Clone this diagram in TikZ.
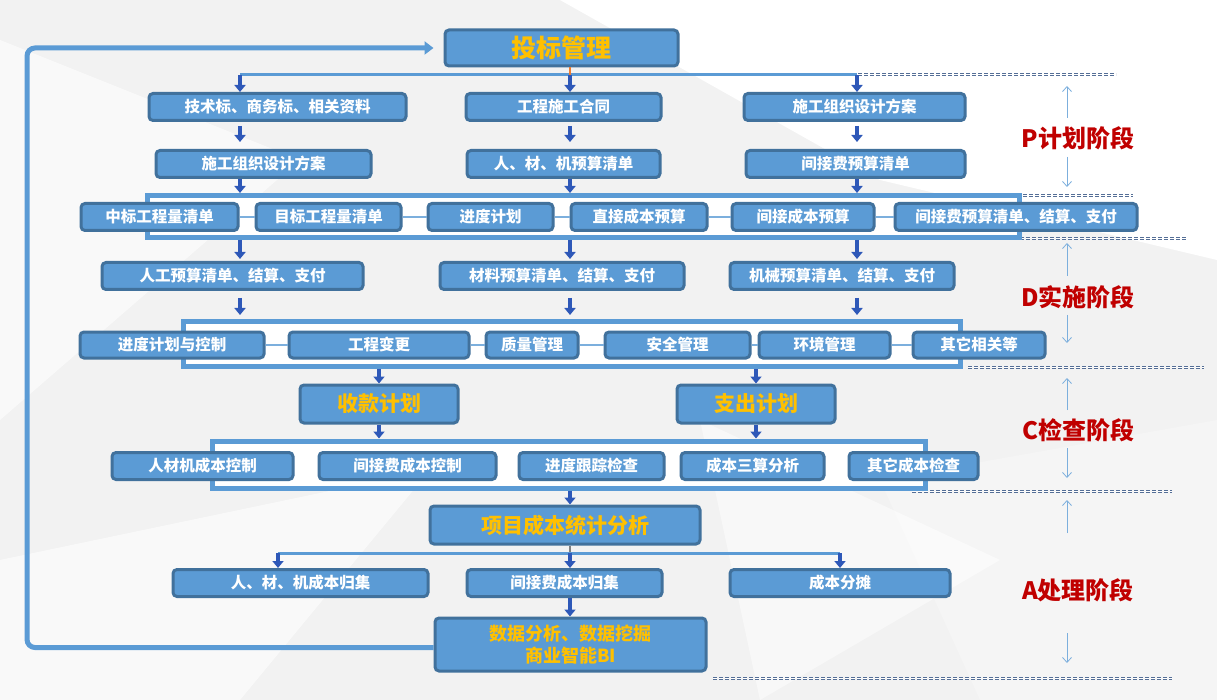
\documentclass[tikz,border=0pt]{standalone}
\usepackage{fontspec}
\setmainfont{Noto Sans CJK SC}
\usetikzlibrary{arrows.meta,positioning}

\definecolor{boxfill}{RGB}{91,155,213}
\definecolor{boxline}{RGB}{65,113,156}
\definecolor{gold}{RGB}{255,192,0}
\definecolor{phasered}{RGB}{192,0,0}
\definecolor{arrblue}{RGB}{46,88,184}
\definecolor{sepblue}{RGB}{84,110,150}
\definecolor{stuborange}{RGB}{237,125,49}
\definecolor{bg}{RGB}{242,242,242}

\tikzset{
  box/.style={draw=boxline,fill=boxfill,line width=3pt,rounded corners=4pt,minimum height=27pt,inner sep=0pt,text=white,font=\bfseries\fontsize{15.5}{18}\selectfont},
  bigbox/.style={box,minimum height=38pt,text=gold,font=\bfseries\fontsize{21}{24}\selectfont},
  frame/.style={draw=boxfill,fill=white,line width=5pt,inner sep=0pt},
  darr/.style={draw=arrblue,line width=3.5pt,-{Triangle[length=7pt,width=11pt]}},
  bus/.style={draw=boxfill,line width=3pt},
  link/.style={draw=boxfill!80,line width=1.5pt},
  sep/.style={draw=sepblue,line width=1pt,double=white,double distance=1pt,dash pattern=on 4pt off 2pt},
  phase/.style={text=phasered,font=\bfseries\fontsize{24}{28}\selectfont,inner sep=2pt},
  parr/.style={draw=boxfill!80,line width=0.8pt,-{Straight Barb[length=5pt,width=9pt]}}
}

\begin{document}
\begin{tikzpicture}[x=1pt,y=-1pt]
\useasboundingbox (0,0) rectangle (1217,700);
% background
\fill[bg] (0,0) rectangle (1217,700);
\fill[white] (560,0) -- (1217,0) -- (1217,260) -- (880,180) -- cycle;
\fill[white,opacity=.6] (0,40) -- (300,160) -- (0,420) -- cycle;
\fill[white,opacity=.6] (0,560) -- (430,470) -- (240,700) -- (0,700) -- cycle;
\fill[black!4] (880,480) -- (1217,420) -- (1217,700) -- (980,700) -- cycle;
\fill[white,opacity=.5] (700,420) -- (1000,560) -- (760,700) -- cycle;

% phase separators
\foreach \xa/\xb/\yy in {858/1116/75,873/1133/196,930/1187/239,968/1204/367,912/1172/491,713/1172/678}
  \draw[sep] (\xa,\yy) -- (\xb,\yy);

% frames
\node[frame,minimum width=872pt,minimum height=42pt] (fr1) at (583.5,216.5) {};
\node[frame,minimum width=777pt,minimum height=45pt] (fr2) at (572,344) {};
\node[frame,minimum width=713pt,minimum height=47pt] (fr3) at (569,464.5) {};

% boxes
\node[box,minimum width=233pt,minimum height=36pt,text=gold,font=\bfseries\fontsize{25}{28}\selectfont] (tb) at (561.5,48) {投标管理};

\foreach \n/\t/\cx/\w in {a/技术标、商务标、相关资料/277.5/257,b/工程施工合同/563.5/195,c/施工组织设计方案/854.5/221}
  \node[box,minimum width=\w pt] (r1\n) at (\cx,107) {\t};
\foreach \n/\t/\cx/\w in {a/施工组织设计方案/263.5/215,b/人、材、机预算清单/563.5/193,c/间接费预算清单/855.5/219}
  \node[box,minimum width=\w pt] (r2\n) at (\cx,164) {\t};
\foreach \n/\t/\cx/\w in {a/中标工程量清单/159.5/157,b/目标工程量清单/328.5/145,c/进度计划/490.5/125,d/直接成本预算/639/136,e/间接成本预算/803/142,f/间接费预算清单、结算、支付/1016/242}
  \node[box,minimum width=\w pt] (r3\n) at (\cx,217) {\t};
\foreach \n/\t/\cx/\w in {a/人工预算清单、结算、支付/232.5/261,b/材料预算清单、结算、支付/562/244,c/机械预算清单、结算、支付/842/224}
  \node[box,minimum width=\w pt] (r4\n) at (\cx,276) {\t};
\foreach \n/\t/\cx/\w in {a/进度计划与控制/172/184,b/工程变更/379/180,c/质量管理/532/92,d/安全管理/677.5/145,e/环境管理/824.5/131,f/其它相关等/979/132}
  \node[box,minimum width=\w pt,minimum height=26pt] (r5\n) at (\cx,345) {\t};

\node[bigbox,minimum width=158pt] (sk) at (379,404) {收款计划};
\node[bigbox,minimum width=158pt] (zc) at (756,404) {支出计划};

\foreach \n/\t/\cx/\w in {a/人材机成本控制/202.5/181,b/间接费成本控制/407.5/177,c/进度跟踪检查/591.5/145,d/成本三算分析/752.5/143,e/其它成本检查/913.5/129}
  \node[box,minimum width=\w pt] (r6\n) at (\cx,466) {\t};

\node[bigbox,minimum width=270pt] (xm) at (565,525) {项目成本统计分析};

\foreach \n/\t/\cx/\w in {a/人、材、机成本归集/300.5/255,b/间接费成本归集/564.5/195,c/成本分摊/840/220}
  \node[box,minimum width=\w pt] (r7\n) at (\cx,583) {\t};

\node[bigbox,minimum width=271pt,minimum height=53pt,align=center,font=\bfseries\fontsize{18}{22}\selectfont] (bi) at (570.5,644.5) {数据分析、数据挖掘\\商业智能BI};

% links inside frames
\foreach \a/\b in {a/b,b/c,c/d,d/e,e/f}
  \draw[link] (r3\a.east) -- (r3\b.west);
\foreach \a/\b in {a/b,b/c,c/d,d/e,e/f}
  \draw[link] (r5\a.east) -- (r5\b.west);

% columns and buses
\coordinate (busL) at (240,75);
\coordinate (busM) at (570,75);
\coordinate (busR) at (857,75);
\coordinate (bus2L) at (278,553);
\coordinate (bus2M) at (570,553);
\coordinate (bus2R) at (840,553);

\draw[bus] (busL) -- (busR);
\draw[stuborange,line width=2.5pt] (tb.south -| busM) -- (busM);
\foreach \c in {busL,busM,busR}{
  \draw[darr] (\c) -- (\c |- r1a.north);
  \draw[darr,shorten <=4pt,shorten >=7pt] (r1a.south -| \c) -- (r2a.north -| \c);
  \draw[darr] (r2a.south -| \c) -- (fr1.north -| \c);
  \draw[darr,shorten >=2pt] (fr1.south -| \c) -- (r4a.north -| \c);
  \draw[darr,shorten <=7pt,shorten >=4pt] (r4a.south -| \c) -- (fr2.north -| \c);
}
\foreach \b in {sk,zc}{
  \draw[darr] (fr2.south -| \b) -- (\b.north);
  \draw[darr] (\b.south) -- (\b.south |- fr3.north);
}
\draw[darr] (fr3.south -| busM) -- (busM |- xm.north);
\draw[gray,line width=2.5pt] (xm.south -| bus2M) -- (bus2M);
\draw[bus] (bus2L) -- (bus2R);
\foreach \c in {bus2L,bus2M,bus2R}
  \draw[darr] (\c) -- (\c |- r7a.north);
\draw[darr] (r7b.south -| busM) -- (busM |- bi.north);

% feedback loop
\coordinate (lp) at (27,0);
\draw[boxfill,line width=5pt,rounded corners=8pt,-{Triangle[length=9pt,width=13pt]},shorten >=10pt] ([yshift=-3pt]bi.west) -| (lp |- tb.west) -- (tb.west);

% phases
\foreach \n/\t/\yy/\ua/\ub/\da/\db in {P/P计划阶段/138/118/86/157/187,D/D实施阶段/297/276/243/315/343,C/C检查阶段/430/410/378/448/478,A/A处理阶段/590/533/500/633/663}{
  \node[phase] (ph\n) at (1078,\yy) {\t};
  \coordinate (ph\n-u1) at (1067,\ua);
  \coordinate (ph\n-u2) at (1067,\ub);
  \coordinate (ph\n-d1) at (1067,\da);
  \coordinate (ph\n-d2) at (1067,\db);
  \draw[parr] (ph\n-u1) -- (ph\n-u2);
  \draw[parr] (ph\n-d1) -- (ph\n-d2);
}
\end{tikzpicture}
\end{document}
